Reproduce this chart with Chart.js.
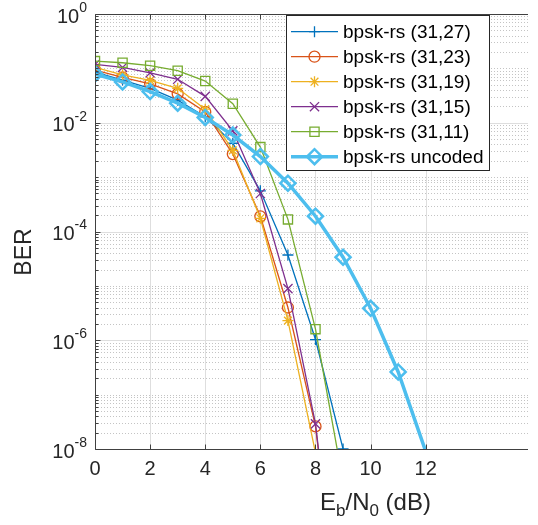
<!DOCTYPE html>
<html>
<head>
<meta charset="utf-8">
<script src="https://cdn.jsdelivr.net/npm/chart.js@4/dist/chart.umd.min.js"></script>
<style>
html,body{margin:0;padding:0;background:#fff;}
#wrap{width:538px;height:525px;position:relative;}
</style>
</head>
<body>
<div id="wrap"><canvas id="c" width="538" height="525"></canvas></div>
<script>
// ---------- data ----------
const ebn0 = [0, 1, 2, 3, 4, 5, 6, 7, 8, 9, 10, 11, 12];
const ber_rs3127 = [0.085, 0.061, 0.043, 0.026, 0.0129, 0.0042, 5.6e-4, 3.7e-5, 1.03e-6, 1.0e-8];
const ber_rs3123 = [0.093, 0.068, 0.052, 0.034, 0.0158, 0.00265, 1.9e-4, 4.0e-6, 2.6e-8, 1.6e-12];
const ber_rs3119 = [0.104, 0.076, 0.060, 0.043, 0.0178, 0.0031, 1.75e-4, 2.3e-6, 8.5e-9, 1.0e-12];
const ber_rs3115 = [0.118, 0.104, 0.083, 0.063, 0.0306, 0.0071, 5.0e-4, 8.9e-6, 2.9e-8, 1.5e-12];
const ber_rs3111 = [0.136, 0.127, 0.112, 0.0905, 0.0585, 0.0224, 0.00357, 1.67e-4, 1.6e-6, 2.5e-9];
const ber_uncoded = [0.0786, 0.0563, 0.0375, 0.0229, 0.0125, 0.00595, 0.00239, 7.73e-4, 1.91e-4, 3.36e-5, 3.87e-6, 2.61e-7, 9.0e-9];
const seriesNames = ['bpsk-rs (31,27)', 'bpsk-rs (31,23)', 'bpsk-rs (31,19)', 'bpsk-rs (31,15)', 'bpsk-rs (31,11)', 'bpsk-rs uncoded'];
const xTickValues = [0, 2, 4, 6, 8, 10, 12];
const yTickExponents = [0, -2, -4, -6, -8];
const xTitle = ['E', 'b', '/N', '0', ' (dB)'];
const yTitle = 'BER';

// ---------- styles ----------
const seriesValues = [ber_rs3127, ber_rs3123, ber_rs3119, ber_rs3115, ber_rs3111, ber_uncoded];
const seriesColors = ['#0072BD', '#D95319', '#EDB120', '#7E2F8E', '#77AC30', '#4DBEEE'];
const seriesMarkers = ['cross', 'circle', 'star', 'crossRot', 'rect', 'rectRot'];
const markerRadius = [5.5, 5.5, 5.5, 6.5, 6.5, 7.5];
const lineWidths = [1.3, 1.3, 1.3, 1.3, 1.3, 3.5];
const markerWidths = [1.3, 1.3, 1.3, 1.3, 1.3, 2.5];
const YMIN = 1e-8, YMAX = 1, XMIN = 0, XMAX = 15.71;
const FONT = '"Liberation Sans", Arial, Helvetica, sans-serif';
const TXT = '#262626';

const datasets = seriesValues.map((vals, i) => ({
  label: seriesNames[i],
  data: vals.map((v, j) => ({x: ebn0[j], y: v})),
  borderColor: seriesColors[i],
  backgroundColor: 'rgba(0,0,0,0)',
  borderWidth: lineWidths[i],
  pointStyle: seriesMarkers[i],
  pointRadius: (c) => (c.raw && c.raw.y < YMIN * 0.999 ? 0 : markerRadius[i]),
  pointBorderWidth: markerWidths[i],
  pointBorderColor: seriesColors[i],
  pointBackgroundColor: 'rgba(0,0,0,0)',
  tension: 0,
  order: seriesValues.length - 1 - i
}));

function drawMarker(ctx, style, x, y, r) {
  const d = r * Math.SQRT1_2;
  ctx.beginPath();
  switch (style) {
    case 'cross':
      ctx.moveTo(x - r, y); ctx.lineTo(x + r, y); ctx.moveTo(x, y - r); ctx.lineTo(x, y + r); break;
    case 'crossRot':
      ctx.moveTo(x - d, y - d); ctx.lineTo(x + d, y + d); ctx.moveTo(x - d, y + d); ctx.lineTo(x + d, y - d); break;
    case 'star':
      ctx.moveTo(x - r, y); ctx.lineTo(x + r, y); ctx.moveTo(x, y - r); ctx.lineTo(x, y + r);
      ctx.moveTo(x - d, y - d); ctx.lineTo(x + d, y + d); ctx.moveTo(x - d, y + d); ctx.lineTo(x + d, y - d); break;
    case 'circle':
      ctx.arc(x, y, r, 0, Math.PI * 2); break;
    case 'rect':
      ctx.rect(x - d, y - d, 2 * d, 2 * d); break;
    case 'rectRot':
      ctx.moveTo(x - r, y); ctx.lineTo(x, y - r); ctx.lineTo(x + r, y); ctx.lineTo(x, y + r); ctx.closePath(); break;
  }
  ctx.stroke();
}

function hline(ctx, x1, x2, y) { ctx.beginPath(); ctx.moveTo(x1, y); ctx.lineTo(x2, y); ctx.stroke(); }
function vline(ctx, x, y1, y2) { ctx.beginPath(); ctx.moveTo(x, y1); ctx.lineTo(x, y2); ctx.stroke(); }

const matlabAxes = {
  id: 'matlabAxes',
  beforeDatasetsDraw(chart) {
    const {ctx, chartArea: a, scales: {x, y}} = chart;
    ctx.save();
    ctx.lineWidth = 1;
    // minor dotted grid
    ctx.strokeStyle = '#c4c4c4';
    ctx.setLineDash([1, 2]);
    for (let e = -8; e < 0; e++) {
      for (let k = 1; k <= 9; k++) {
        if (k === 1 && e % 2 === 0) continue;
        const py = Math.round(y.getPixelForValue(k * Math.pow(10, e))) + 0.5;
        hline(ctx, a.left, a.right, py);
      }
    }
    // major grid
    ctx.setLineDash([]);
    ctx.strokeStyle = '#dedede';
    yTickExponents.forEach(e => {
      const v = Math.pow(10, e);
      if (v >= YMAX || v <= YMIN) return;
      const py = Math.round(y.getPixelForValue(v)) + 0.5;
      hline(ctx, a.left, a.right, py);
    });
    xTickValues.forEach(t => {
      if (t <= XMIN) return;
      const px = Math.round(x.getPixelForValue(t)) + 0.5;
      vline(ctx, px, a.top, a.bottom);
    });
    ctx.restore();
  },
  afterDatasetsDraw(chart) {
    const {ctx, chartArea: a, scales: {x, y}} = chart;
    ctx.save();
    // axes box
    ctx.strokeStyle = '#404040';
    ctx.lineWidth = 1;
    const L = Math.round(x.getPixelForValue(XMIN)) + 0.5;
    const B = Math.round(y.getPixelForValue(YMIN)) + 0.5;
    const T = Math.round(y.getPixelForValue(YMAX)) + 0.5;
    vline(ctx, L, T, B);
    hline(ctx, L, a.right, B);
    hline(ctx, L, a.right, T);
    // y ticks
    for (let e = -8; e <= 0; e++) {
      for (let k = 1; k <= 9; k++) {
        const v = k * Math.pow(10, e);
        if (v > YMAX * 1.0001) continue;
        const py = Math.round(y.getPixelForValue(v)) + 0.5;
        const len = (k === 1 && e % 2 === 0) ? 5 : 3;
        hline(ctx, L, L + len, py);
      }
    }
    // x ticks
    xTickValues.forEach(t => {
      const px = Math.round(x.getPixelForValue(t)) + 0.5;
      vline(ctx, px, B, B - 5);
      vline(ctx, px, T, T + 5);
    });
    // x tick labels
    ctx.fillStyle = TXT;
    ctx.font = '20px ' + FONT;
    ctx.textAlign = 'center';
    ctx.textBaseline = 'middle';
    xTickValues.forEach(t => {
      ctx.fillText(String(t), x.getPixelForValue(t), 469);
    });
    // y tick labels 10^e
    yTickExponents.forEach(e => {
      const py = y.getPixelForValue(Math.pow(10, e));
      const sup = e === 0 ? '0' : '-' + Math.abs(e);
      ctx.font = '14px ' + FONT;
      const sw = ctx.measureText(sup).width;
      const right = 87;
      ctx.textAlign = 'right';
      ctx.textBaseline = 'middle';
      ctx.fillText(sup, right, py - 6);
      ctx.font = '20px ' + FONT;
      ctx.fillText('10', right - sw, py + 3);
    });
    // y title
    ctx.save();
    ctx.translate(25, 252);
    ctx.rotate(-Math.PI / 2);
    ctx.font = '23px ' + FONT;
    ctx.textAlign = 'center';
    ctx.textBaseline = 'middle';
    ctx.fillText(yTitle, 0, 0);
    ctx.restore();
    // x title with subscripts
    ctx.textAlign = 'left';
    ctx.textBaseline = 'alphabetic';
    let cx = 320;
    const base = 510;
    xTitle.forEach((s, i) => {
      const sub = (i % 2 === 1);
      ctx.font = (sub ? '17px ' : '24px ') + FONT;
      ctx.fillText(s, cx, sub ? base + 6 : base);
      cx += ctx.measureText(s).width;
    });
    // legend
    const lx1 = 286.5, ly1 = 15.5, lx2 = 489.5, ly2 = 170.5;
    ctx.fillStyle = '#ffffff';
    ctx.fillRect(lx1, ly1, lx2 - lx1, ly2 - ly1);
    ctx.strokeStyle = '#262626';
    ctx.lineWidth = 1;
    ctx.strokeRect(lx1, ly1, lx2 - lx1, ly2 - ly1);
    chart.data.datasets.forEach((ds, i) => {
      const ry = 31.7 + 25 * i;
      ctx.strokeStyle = seriesColors[i];
      ctx.lineWidth = lineWidths[i];
      hline(ctx, 291, 338, ry);
      ctx.lineWidth = markerWidths[i];
      drawMarker(ctx, seriesMarkers[i], 314.5, ry, markerRadius[i]);
      ctx.fillStyle = '#000000';
      ctx.font = '19px ' + FONT;
      ctx.textAlign = 'left';
      ctx.textBaseline = 'middle';
      ctx.fillText(ds.label, 343, ry + 1);
    });
    ctx.restore();
  }
};

new Chart(document.getElementById('c'), {
  type: 'line',
  data: {datasets},
  options: {
    responsive: false,
    animation: false,
    events: [],
    layout: {padding: {left: 95, top: 14, right: 0, bottom: 76}},
    plugins: {legend: {display: false}, tooltip: {enabled: false}, title: {display: false}},
    scales: {
      x: {type: 'linear', min: XMIN, max: XMAX, display: false},
      y: {type: 'logarithmic', min: YMIN, max: YMAX, display: false}
    }
  },
  plugins: [matlabAxes]
});
</script>
</body>
</html>
